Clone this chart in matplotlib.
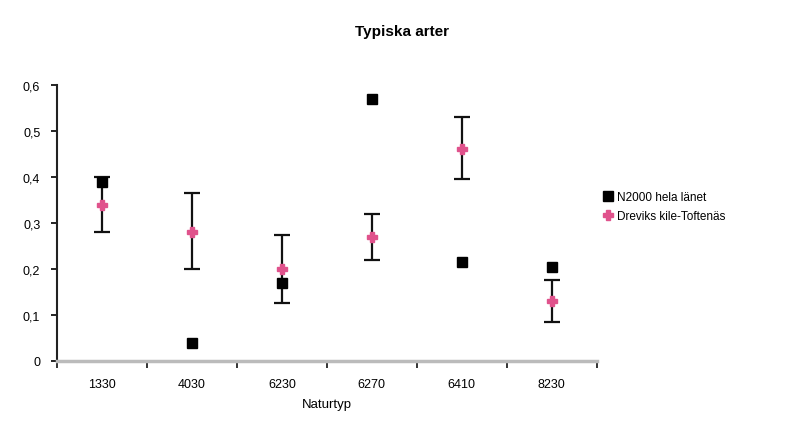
import matplotlib
matplotlib.use("Agg")
import matplotlib.pyplot as plt
import numpy as np

plt.rcParams['font.family'] = ['Liberation Sans', 'DejaVu Sans']

categories = ["1330", "4030", "6230", "6270", "6410", "8230"]
n2000_values = [0.39, 0.04, 0.17, 0.57, 0.215, 0.205]
drevik_values = [0.34, 0.28, 0.20, 0.27, 0.46, 0.13]
drevik_err_low = [0.06, 0.08, 0.075, 0.05, 0.065, 0.045]
drevik_err_high = [0.06, 0.085, 0.075, 0.05, 0.07, 0.045]
y_ticks = [0, 0.1, 0.2, 0.3, 0.4, 0.5, 0.6]
y_labels = ["0", "0,1", "0,2", "0,3", "0,4", "0,5", "0,6"]

fig = plt.figure(figsize=(8.08, 4.35), dpi=100)
ax = fig.add_axes([0.0705, 0.168, 0.668, 0.634])

x = np.arange(len(categories))
pink = "#e0528c"

ax.errorbar(x, drevik_values, yerr=[drevik_err_low, drevik_err_high],
            fmt='none', ecolor='#111111', elinewidth=1.6, capsize=6, capthick=1.6,
            zorder=2)
ax.plot(x, n2000_values, linestyle='none', marker='s', markersize=7,
        color='black', label="N2000 hela länet", zorder=3)
ax.plot(x, drevik_values, linestyle='none', marker='P', markersize=7,
        color=pink, markeredgecolor=pink, label="Dreviks kile-Toftenäs", zorder=4)

ax.set_xlim(-0.5, len(categories) - 0.5)
ax.set_ylim(0, 0.6)
ax.set_xticks(np.arange(-0.5, len(categories), 1.0))
ax.set_xticklabels([])
ax.set_xticks(x, minor=True)
ax.set_xticklabels(categories, minor=True, fontsize=9)
ax.tick_params(axis='x', which='minor', length=0, pad=12)
ax.tick_params(axis='x', which='major', length=5, width=1.3, color='#222222', direction='out')
ax.set_yticks(y_ticks)
ax.set_yticklabels(y_labels, fontsize=9)
ax.tick_params(axis='y', length=4, width=1.2, direction='out', pad=8)

for side in ['top', 'right']:
    ax.spines[side].set_visible(False)
ax.spines['left'].set_color('#222222')
ax.spines['left'].set_linewidth(1.5)
ax.spines['bottom'].set_color('#bbbbbb')
ax.spines['bottom'].set_linewidth(2.5)

ax.set_xlabel("Naturtyp", fontsize=9.5, labelpad=6)
fig.text(0.497, 0.927, "Typiska arter", ha='center', va='center',
         fontsize=11, fontweight='bold')

ax.legend(loc='center left', bbox_to_anchor=(0.99, 0.56), frameon=False,
          fontsize=8.5, handlelength=0.8, handletextpad=0.4, labelspacing=0.55,
          borderaxespad=0.6)

fig.savefig("out.png", dpi=100, facecolor='white')
